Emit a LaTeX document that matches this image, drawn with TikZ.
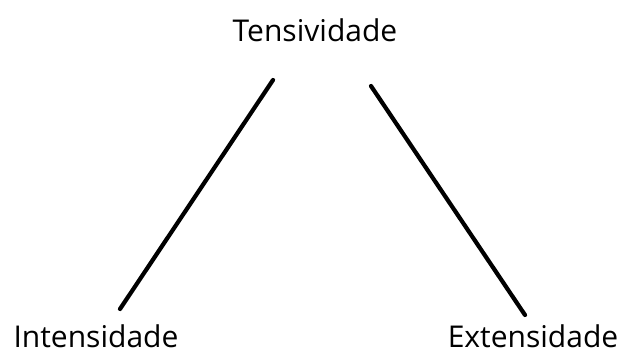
\documentclass[tikz,border=0pt]{standalone}
\usepackage{fontspec}
\setmainfont{Open Sans}
\begin{document}
\begin{tikzpicture}[x=1pt,y=-1pt,
  lbl/.style={font=\fontsize{30}{34}\selectfont, inner sep=0pt},
  edge/.style={line width=4.2pt, line cap=round}]
\useasboundingbox (0,0) rectangle (624,356);
\node[lbl, anchor=base] (t) at (315,41) {Tensividade};
\node[lbl, anchor=base] (i) at (96,347) {Intensidade};
\node[lbl, anchor=base] (e) at (533,347) {Extensidade};
\coordinate (l1) at (273,80);
\coordinate (l2) at (120,309);
\coordinate (r1) at (371,86);
\coordinate (r2) at (525,315);
\draw[edge] (l1) -- (l2);
\draw[edge] (r1) -- (r2);
\end{tikzpicture}
\end{document}
